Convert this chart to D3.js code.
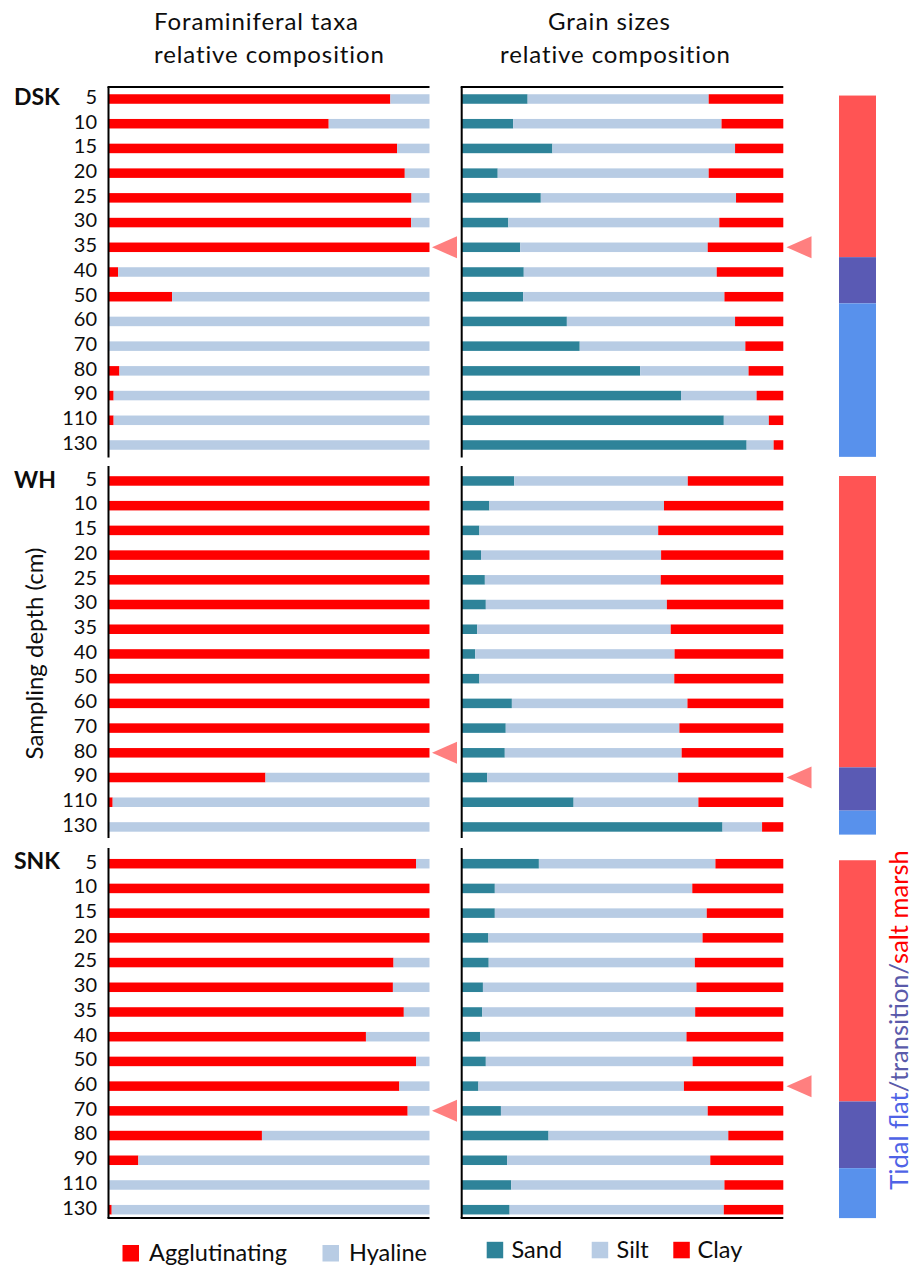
<!DOCTYPE html>
<html>
<head>
<meta charset="utf-8">
<script src="https://cdn.jsdelivr.net/npm/d3@7"></script>
<style>
  body { margin: 0; background: #fff; }
  svg { display: block; font-family: Lato, "Open Sans", sans-serif; }
  .depth text { font-variant-numeric: tabular-nums; }
</style>
</head>
<body>
<svg id="chart" width="912" height="1266"></svg>
<script>
// Sampling depths (cm), shared by the three cores
const depths = ['5','10','15','20','25','30','35','40','50','60','70','80','90','110','130'];
const sites = ['DSK', 'WH', 'SNK'];

// Foraminiferal taxa relative composition (%)
const aggDSK = [87.8, 68.6, 89.9, 92.3, 94.4, 94.3, 100, 3.0, 19.8, 0, 0, 3.4, 1.6, 1.6, 0];
const hyaDSK = [12.2, 31.4, 10.1, 7.7, 5.6, 5.7, 0, 97.0, 80.2, 100, 100, 96.6, 98.4, 98.4, 100];
const aggWH  = [100, 100, 100, 100, 100, 100, 100, 100, 100, 100, 100, 100, 48.9, 1.3, 0];
const hyaWH  = [0, 0, 0, 0, 0, 0, 0, 0, 0, 0, 0, 0, 51.1, 98.7, 100];
const aggSNK = [95.8, 100, 100, 100, 88.8, 88.6, 92.0, 80.2, 95.8, 90.6, 93.2, 47.8, 9.3, 0, 1.0];
const hyaSNK = [4.2, 0, 0, 0, 11.2, 11.4, 8.0, 19.8, 4.2, 9.4, 6.8, 52.2, 90.7, 100, 99.0];

// Grain sizes relative composition (%)
const sandDSK = [20.5, 16.0, 28.2, 11.2, 24.6, 14.5, 18.2, 19.3, 19.1, 32.7, 36.7, 55.5, 68.2, 81.5, 88.6];
const siltDSK = [56.3, 64.8, 56.8, 65.6, 60.7, 65.6, 58.3, 60.0, 62.6, 52.3, 51.5, 33.7, 23.5, 14.0, 8.4];
const clayDSK = [23.2, 19.2, 15.0, 23.2, 14.7, 19.9, 23.5, 20.7, 18.3, 15.0, 11.8, 10.8, 8.3, 4.5, 3.0];
const sandWH  = [16.3, 8.6, 5.5, 6.0, 7.2, 7.5, 4.8, 4.2, 5.5, 15.6, 13.7, 13.4, 7.9, 34.8, 81.1];
const siltWH  = [54.0, 54.3, 55.6, 56.0, 54.7, 56.3, 60.2, 62.0, 60.6, 54.6, 54.0, 55.0, 59.4, 38.8, 12.3];
const clayWH  = [29.7, 37.1, 38.9, 38.0, 38.1, 36.2, 35.0, 33.8, 33.9, 29.8, 32.3, 31.6, 32.7, 26.4, 6.6];
const sandSNK = [24.0, 10.3, 10.3, 8.3, 8.4, 6.6, 6.4, 5.7, 7.5, 5.2, 12.2, 27.0, 14.1, 15.4, 14.9];
const siltSNK = [54.9, 61.4, 65.9, 66.6, 64.1, 66.4, 66.2, 64.2, 64.3, 63.9, 64.3, 55.9, 63.2, 66.3, 66.6];
const claySNK = [21.1, 28.3, 23.8, 25.1, 27.5, 27.0, 27.4, 30.1, 28.2, 30.9, 23.5, 17.1, 22.7, 18.3, 18.5];

// Depths flagged with a marker in each core
const markerForam = ['35', '80', '70'];
const markerGrain = ['35', '90', '60'];

// Environment zones along each core, as breaks in sample-row units
const zoneNames = ['salt marsh', 'transition', 'tidal flat'];
const zoneBreaksDSK = [0.36, 6.9, 8.77, 14.98];
const zoneBreaksWH  = [0.3, 12.09, 13.84, 14.81];
const zoneBreaksSNK = [0.36, 10.12, 12.82, 14.84];

const foramKeys = ['Agglutinating', 'Hyaline'];
const grainKeys = ['Sand', 'Silt', 'Clay'];

// ---- layout ----
const svg = d3.select('#chart');
const foramX = [108.5, 429.5];
const grainX = [461.7, 783.3];
const panelTop = [86.65, 468.6, 851.35];
const panelH = 370.7;
const frameTop = [87, 466, 848];
const frameBottom = [457.5, 838, 1218];
const zoneX = [839, 876];

const colors = {
  Agglutinating: '#ff0000', Hyaline: '#b8cce4',
  Sand: '#2e8399', Silt: '#b8cce4', Clay: '#ff0000'
};
const zoneColor = d3.scaleOrdinal().domain(zoneNames).range(['#ff5454', '#5a5ab4', '#5891ec']);
const markerColor = '#ff7f7f';
const ink = '#0d0d0d';

const xForam = d3.scaleLinear().domain([0, 100]).range(foramX);
const xGrain = d3.scaleLinear().domain([0, 100]).range(grainX);

const foramData = [[aggDSK, hyaDSK], [aggWH, hyaWH], [aggSNK, hyaSNK]];
const grainData = [[sandDSK, siltDSK, clayDSK], [sandWH, siltWH, clayWH], [sandSNK, siltSNK, claySNK]];
const zoneBreaks = [zoneBreaksDSK, zoneBreaksWH, zoneBreaksSNK];

// ---- titles ----
function title(t, x, y) {
  svg.append('text').attr('x', x).attr('y', y)
    .attr('font-size', 24).attr('letter-spacing', 0.9).attr('fill', ink).text(t);
}
title('Foraminiferal taxa', 154, 30);
title('relative composition', 154, 63);
title('Grain sizes', 548, 30);
title('relative composition', 500, 63);

function stacked(keys, arrays) {
  const rows = depths.map((d, j) => {
    const r = { depth: d };
    keys.forEach((k, m) => r[k] = arrays[m][j]);
    return r;
  });
  return d3.stack().keys(keys)(rows);
}

function marker(g, tipX, cy) {
  g.append('path')
    .attr('d', `M${tipX},${cy} L${tipX + 25},${cy - 11} L${tipX + 25},${cy + 11} Z`)
    .attr('fill', markerColor);
}

const siteBaseline = [105, 488, 869];

sites.forEach((site, i) => {
  const y = d3.scaleBand().domain(depths)
    .range([panelTop[i], panelTop[i] + panelH])
    .paddingInner(0.615).paddingOuter(0.3075);
  const g = svg.append('g');

  // foraminifera stacked bars
  const fs = stacked(foramKeys, foramData[i]);
  g.append('g').selectAll('g').data(fs).join('g')
    .attr('fill', s => colors[s.key])
    .selectAll('rect').data(s => s).join('rect')
    .attr('x', d => xForam(d[0]))
    .attr('width', d => xForam(d[1]) - xForam(d[0]))
    .attr('y', d => y(d.data.depth))
    .attr('height', y.bandwidth());

  // grain-size stacked bars
  const gs = stacked(grainKeys, grainData[i]);
  g.append('g').selectAll('g').data(gs).join('g')
    .attr('fill', s => colors[s.key])
    .selectAll('rect').data(s => s).join('rect')
    .attr('x', d => xGrain(d[0]))
    .attr('width', d => xGrain(d[1]) - xGrain(d[0]))
    .attr('y', d => y(d.data.depth))
    .attr('height', y.bandwidth());

  // depth labels
  const ax = g.append('g').attr('class', 'depth').attr('transform', `translate(${foramX[0]},0)`)
    .call(d3.axisLeft(y).tickSize(0).tickPadding(11.5));
  ax.select('.domain').remove();
  ax.selectAll('text').attr('font-size', 20).attr('font-family', 'Lato, sans-serif')
    .attr('fill', ink).attr('dy', '0.24em');

  // frame lines
  [foramX, grainX].forEach(xr => {
    g.append('line').attr('x1', xr[0]).attr('x2', xr[0])
      .attr('y1', frameTop[i]).attr('y2', frameBottom[i])
      .attr('stroke', '#000').attr('stroke-width', 2);
    if (i === 0) {
      g.append('line').attr('x1', xr[0] - 1).attr('x2', xr[1])
        .attr('y1', frameTop[i]).attr('y2', frameTop[i])
        .attr('stroke', '#000').attr('stroke-width', 2);
    }
    if (i === sites.length - 1) {
      g.append('line').attr('x1', xr[0] - 1).attr('x2', xr[1])
        .attr('y1', frameBottom[i]).attr('y2', frameBottom[i])
        .attr('stroke', '#000').attr('stroke-width', 2);
    }
  });

  // site label
  g.append('text').attr('x', 14).attr('y', siteBaseline[i])
    .attr('font-size', 23).attr('font-weight', 'bold').attr('fill', ink).text(site);

  // markers
  marker(g, foramX[1] + 2.5, y(markerForam[i]) + y.bandwidth() / 2);
  marker(g, grainX[1] + 3.2, y(markerGrain[i]) + y.bandwidth() / 2);

  // environment zone bar
  const rowScale = d3.scaleLinear().domain([0, depths.length])
    .range([panelTop[i], panelTop[i] + panelH]);
  const br = zoneBreaks[i];
  zoneNames.forEach((z, k) => {
    g.append('rect').attr('x', zoneX[0]).attr('width', zoneX[1] - zoneX[0])
      .attr('y', rowScale(br[k])).attr('height', rowScale(br[k + 1]) - rowScale(br[k]))
      .attr('fill', zoneColor(z));
  });
});

// y-axis title
svg.append('text').attr('transform', 'translate(43,653.5) rotate(-90)')
  .attr('text-anchor', 'middle').attr('font-size', 24).attr('fill', ink)
  .text('Sampling depth (cm)');

// zone key text
const zt = svg.append('text').attr('transform', 'translate(908,1020) rotate(-90)')
  .attr('text-anchor', 'middle').attr('font-size', 25.5);
zt.append('tspan').attr('fill', '#4f63e6').text('Tidal flat');
zt.append('tspan').attr('fill', '#5a5aaa').text('/transition/');
zt.append('tspan').attr('fill', '#ff0000').text('salt marsh');

// legends
function legendItem(key, sx, sy, tx, ty) {
  svg.append('rect').attr('x', sx).attr('y', sy).attr('width', 16.5).attr('height', 16.5)
    .attr('fill', colors[key]);
  svg.append('text').attr('x', tx).attr('y', ty).attr('font-size', 23.5).attr('fill', ink).text(key);
}
legendItem('Agglutinating', 122.5, 1245, 149, 1261);
legendItem('Hyaline', 322.5, 1245, 349, 1261);
legendItem('Sand', 486.7, 1241.8, 511.5, 1257.5);
legendItem('Silt', 591.7, 1241.8, 616.5, 1257.5);
legendItem('Clay', 673.3, 1241.8, 697.5, 1257.5);
</script>
</body>
</html>
